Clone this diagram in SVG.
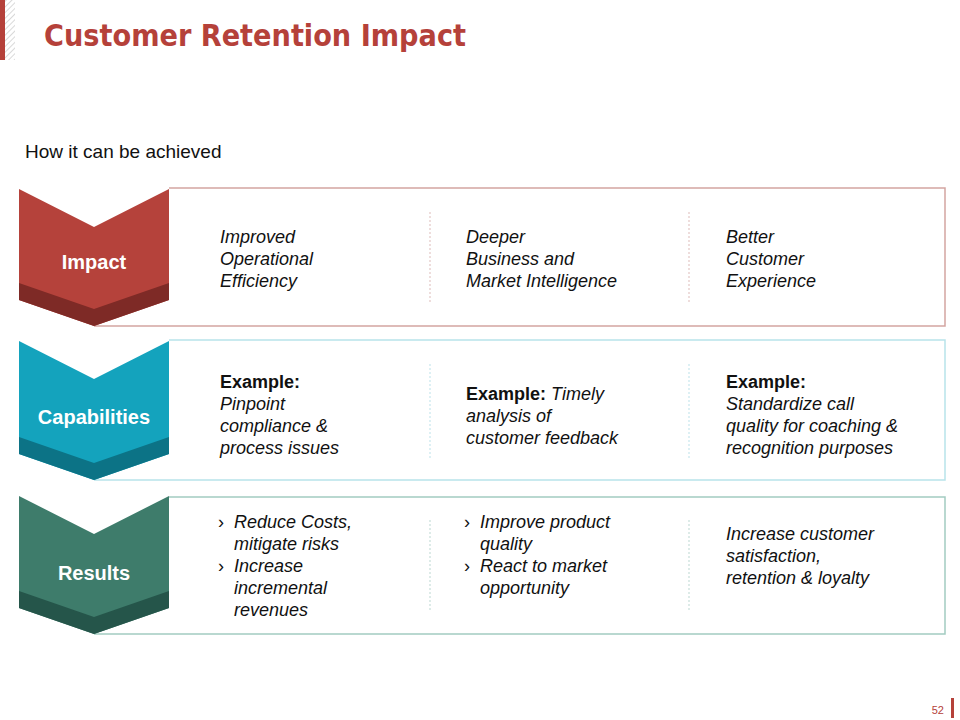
<svg xmlns="http://www.w3.org/2000/svg" width="960" height="720" viewBox="0 0 960 720">
<defs>
<style>
.t{font-family:"Liberation Sans",Arial,sans-serif;font-size:18px;font-style:italic;fill:#111}
.b{font-style:normal;font-weight:bold}
.lbl{font-family:"Liberation Sans",Arial,sans-serif;font-size:20px;font-weight:bold;fill:#fff;text-anchor:middle}
.div{stroke-width:1;stroke-dasharray:2 2;opacity:.6}
</style>
<pattern id="hatch" width="4" height="4" patternUnits="userSpaceOnUse" patternTransform="rotate(45)"><line x1="0" y1="0" x2="0" y2="4" stroke="#ccc" stroke-width="1.5"/></pattern>
</defs>
<rect width="960" height="720" fill="#fff"/>
<rect x="0" y="0" width="5" height="60" fill="#b5413a"/>
<rect x="5" y="0" width="10" height="60" fill="url(#hatch)"/>
<text x="44" y="46" font-family="'Century Gothic','DejaVu Sans',sans-serif" font-size="30" font-weight="bold" fill="#b5413a" textLength="422" lengthAdjust="spacingAndGlyphs">Customer Retention Impact</text>
<text x="25" y="158" font-family="'Liberation Sans',Arial,sans-serif" font-size="19" fill="#111">How it can be achieved</text>
<rect x="951" y="698" width="3" height="20" fill="#b5413a"/>
<text x="944" y="714" font-family="'Liberation Sans',Arial,sans-serif" font-size="11" fill="#b5413a" text-anchor="end">52</text>

<g id="impact">
<path d="M169,188 H945 V326 H94" fill="none" stroke="#d3a5a1" stroke-width="1.5"/>
<path d="M19,189 L94,227 L169,189 V300 L94,326 L19,300 Z" fill="#b5423b"/>
<path d="M19,283 L94,309 L169,283 V300 L94,326 L19,300 Z" fill="#7e2a26"/>
<text x="94" y="269" class="lbl">Impact</text>
<line x1="430" y1="212" x2="430" y2="304" class="div" stroke="#c9908c"/>
<line x1="689" y1="212" x2="689" y2="304" class="div" stroke="#c9908c"/>
<text class="t"><tspan x="220" y="243">Improved</tspan><tspan x="220" y="265">Operational</tspan><tspan x="220" y="287">Efficiency</tspan></text>
<text class="t"><tspan x="466" y="243">Deeper</tspan><tspan x="466" y="265">Business and</tspan><tspan x="466" y="287">Market Intelligence</tspan></text>
<text class="t"><tspan x="726" y="243">Better</tspan><tspan x="726" y="265">Customer</tspan><tspan x="726" y="287">Experience</tspan></text>
</g>

<g id="capabilities">
<path d="M169,340 H945 V480 H94" fill="none" stroke="#b8e3ea" stroke-width="1.5"/>
<path d="M19,341 L94,379 L169,341 V454 L94,480 L19,454 Z" fill="#14a3bd"/>
<path d="M19,437 L94,463 L169,437 V454 L94,480 L19,454 Z" fill="#0c7386"/>
<text x="94" y="424" class="lbl">Capabilities</text>
<line x1="430" y1="364" x2="430" y2="458" class="div" stroke="#8fcfdb"/>
<line x1="689" y1="364" x2="689" y2="458" class="div" stroke="#8fcfdb"/>
<text class="t"><tspan x="220" y="388" class="b">Example:</tspan><tspan x="220" y="410">Pinpoint</tspan><tspan x="220" y="432">compliance &amp;</tspan><tspan x="220" y="454">process issues</tspan></text>
<text class="t"><tspan x="466" y="400" class="b">Example: </tspan><tspan>Timely</tspan><tspan x="466" y="422">analysis of</tspan><tspan x="466" y="444">customer feedback</tspan></text>
<text class="t"><tspan x="726" y="388" class="b">Example:</tspan><tspan x="726" y="410">Standardize call</tspan><tspan x="726" y="432">quality for coaching &amp;</tspan><tspan x="726" y="454">recognition purposes</tspan></text>
</g>

<g id="results">
<path d="M169,497 H945 V634 H94" fill="none" stroke="#a3cbc1" stroke-width="1.5"/>
<path d="M19,496 L94,534 L169,496 V608 L94,634 L19,608 Z" fill="#3e7c6b"/>
<path d="M19,591 L94,617 L169,591 V608 L94,634 L19,608 Z" fill="#25554a"/>
<text x="94" y="580" class="lbl">Results</text>
<line x1="430" y1="520" x2="430" y2="612" class="div" stroke="#8fbfb3"/>
<line x1="689" y1="520" x2="689" y2="612" class="div" stroke="#8fbfb3"/>
<text class="t"><tspan x="218" y="528" font-style="normal">›</tspan><tspan x="234" y="528">Reduce Costs,</tspan><tspan x="234" y="550">mitigate risks</tspan><tspan x="218" y="572" font-style="normal">›</tspan><tspan x="234" y="572">Increase</tspan><tspan x="234" y="594">incremental</tspan><tspan x="234" y="616">revenues</tspan></text>
<text class="t"><tspan x="464" y="528" font-style="normal">›</tspan><tspan x="480" y="528">Improve product</tspan><tspan x="480" y="550">quality</tspan><tspan x="464" y="572" font-style="normal">›</tspan><tspan x="480" y="572">React to market</tspan><tspan x="480" y="594">opportunity</tspan></text>
<text class="t"><tspan x="726" y="540">Increase customer</tspan><tspan x="726" y="562">satisfaction,</tspan><tspan x="726" y="584">retention &amp; loyalty</tspan></text>
</g>
<g id="connectors"/>
</svg>
